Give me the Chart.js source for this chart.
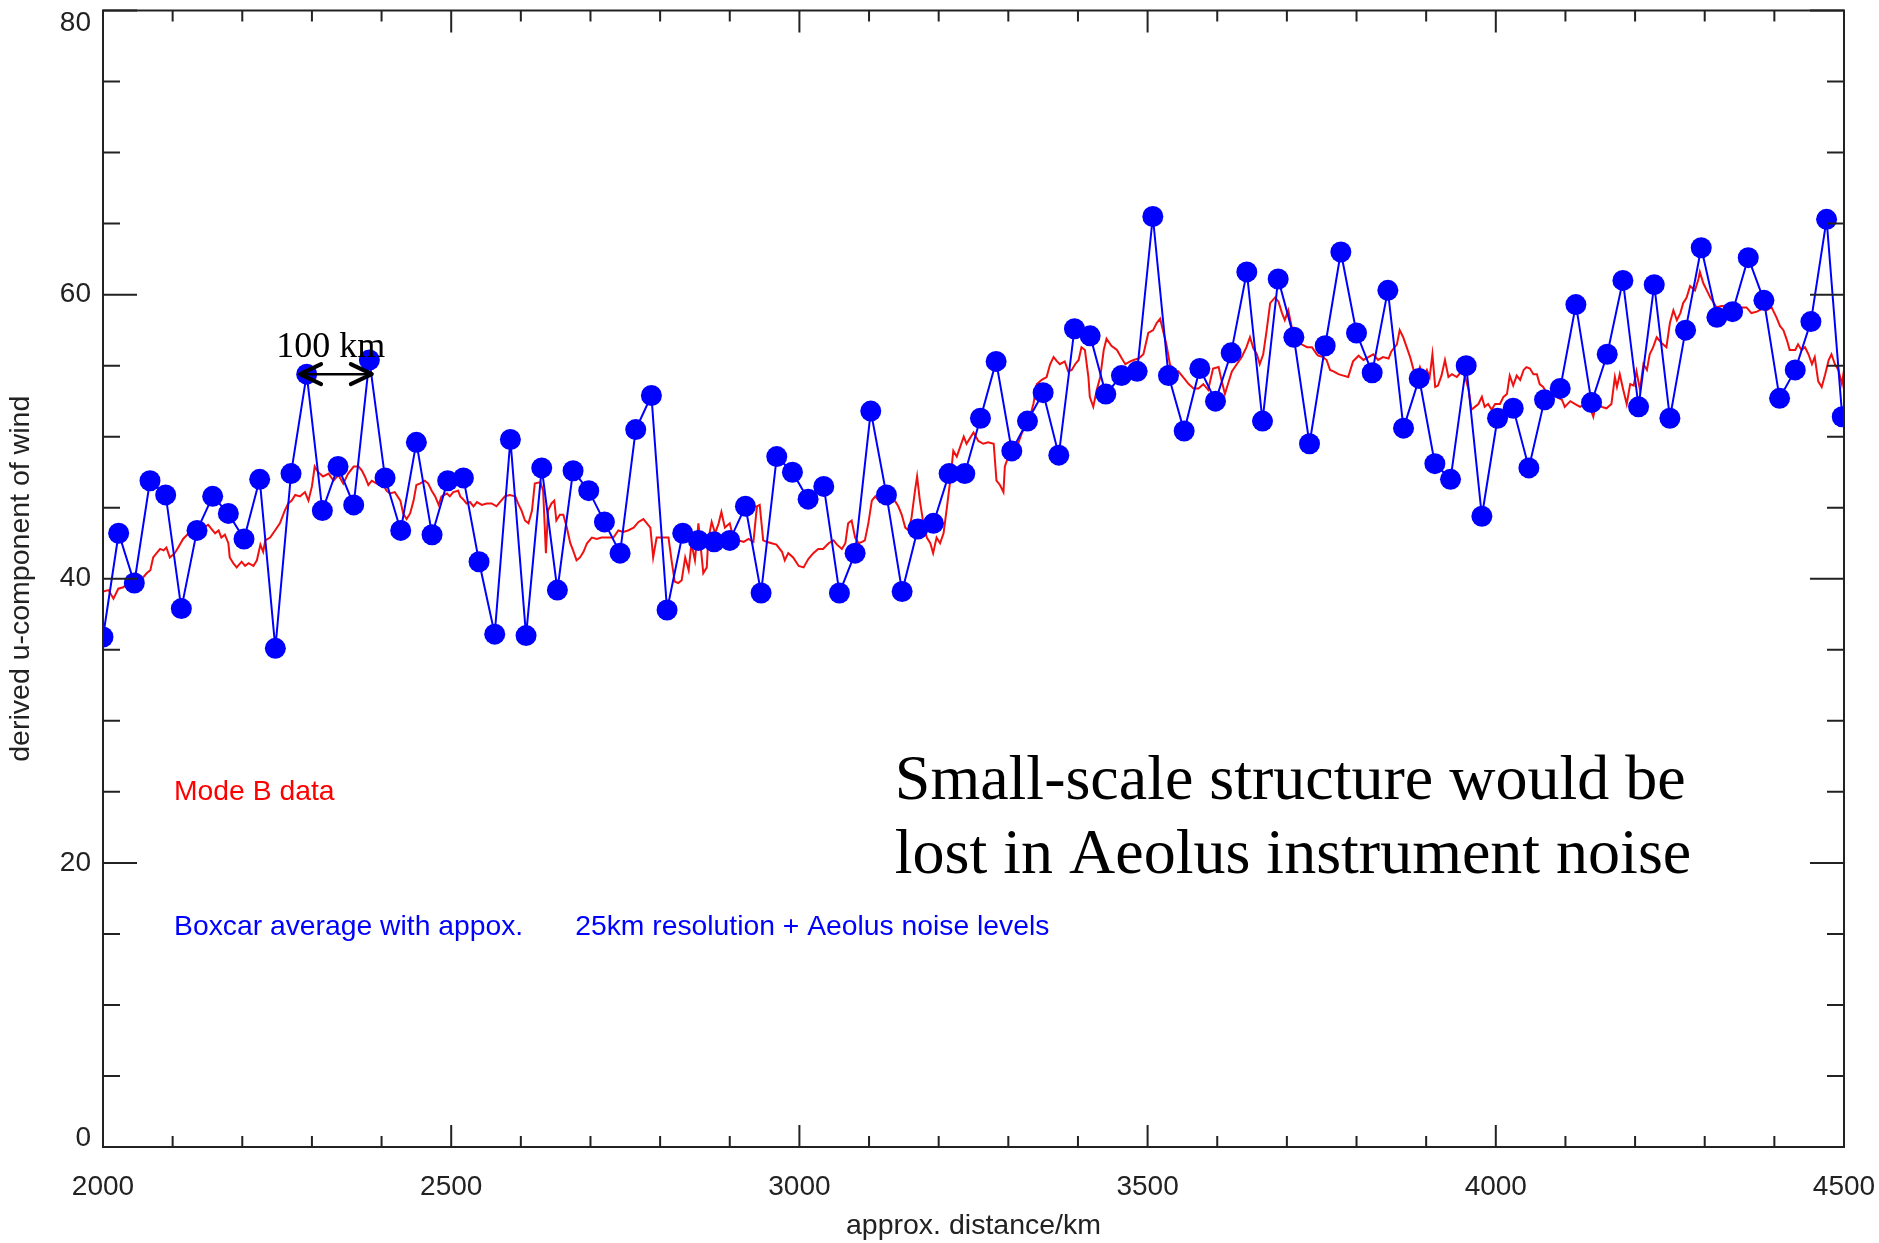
<!DOCTYPE html>
<html>
<head>
<meta charset="utf-8">
<script src="https://cdn.jsdelivr.net/npm/chart.js@4/dist/chart.umd.min.js"></script>
<style>
  html, body { margin: 0; padding: 0; background: #ffffff; }
  #wrap { width: 1879px; height: 1243px; position: relative; }
  canvas { display: block; }
</style>
</head>
<body>
<div id="wrap"><canvas id="windChart" width="1879" height="1243"></canvas></div>
<script>
// Boxcar-averaged samples (approx. 25 km resolution + Aeolus noise)
const boxcarDistance = [
  2000, 2022.5, 2045, 2067.5, 2090, 2112.5, 2135, 2157.5, 2180, 2202.5,
  2225, 2247.5, 2270, 2292.5, 2315, 2337.5, 2360, 2382.5, 2405, 2427.5,
  2450, 2472.5, 2495, 2517.5, 2540, 2562.5, 2585, 2607.5, 2630, 2652.5,
  2675, 2697.5, 2720, 2742.5, 2765, 2787.5, 2810, 2832.5, 2855, 2877.5,
  2900, 2922.5, 2945, 2967.5, 2990, 3012.5, 3035, 3057.5, 3080, 3102.5,
  3125, 3147.5, 3170, 3192.5, 3215, 3237.5, 3260, 3282.5, 3305, 3327.5,
  3350, 3372.5, 3395, 3417.5, 3440, 3462.5, 3485, 3507.5, 3530, 3552.5,
  3575, 3597.5, 3620, 3642.5, 3665, 3687.5, 3710, 3732.5, 3755, 3777.5,
  3800, 3822.5, 3845, 3867.5, 3890, 3912.5, 3935, 3957.5, 3980, 4002.5,
  4025, 4047.5, 4070, 4092.5, 4115, 4137.5, 4160, 4182.5, 4205, 4227.5,
  4250, 4272.5, 4295, 4317.5, 4340, 4362.5, 4385, 4407.5, 4430, 4452.5,
  4475, 4497.5
];
const boxcarWind = [
  35.9, 43.2, 39.7, 46.9, 45.9, 37.9, 43.4, 45.8, 44.6, 42.8,
  47.0, 35.1, 47.4, 54.4, 44.8, 47.9, 45.2, 55.4, 47.1, 43.4,
  49.6, 43.1, 46.9, 47.1, 41.2, 36.1, 49.8, 36.0, 47.8, 39.2,
  47.6, 46.2, 44.0, 41.8, 50.5, 52.9, 37.8, 43.2, 42.7, 42.6,
  42.7, 45.1, 39.0, 48.6, 47.5, 45.6, 46.5, 39.0, 41.8, 51.8,
  45.9, 39.1, 43.5, 43.9, 47.4, 47.4, 51.3, 55.3, 49.0, 51.1,
  53.1, 48.7, 57.6, 57.1, 53.0, 54.3, 54.6, 65.5, 54.3, 50.4,
  54.8, 52.5, 55.9, 61.6, 51.1, 61.1, 57.0, 49.5, 56.4, 63.0,
  57.3, 54.5, 60.3, 50.6, 54.1, 48.1, 47.0, 55.0, 44.4, 51.3,
  52.0, 47.8, 52.6, 53.4, 59.3, 52.4, 55.8, 61.0, 52.1, 60.7,
  51.3, 57.5, 63.3, 58.4, 58.8, 62.6, 59.6, 52.7, 54.7, 58.1,
  65.3, 51.4
];

// Mode B track: [distance km, u-component]
const modeBTrack = [
  [2000,39.1],[2008,39.2],[2015,38.6],[2022,39.3],[2029,39.4],[2036,39.7],[2046,39.9],[2056,40.0],[2063,40.4],[2068,40.6],
  [2072,41.5],[2077,41.8],[2082,42.1],[2087,42.0],[2091,42.2],[2096,41.5],[2103,41.8],[2108,42.2],[2115,42.8],[2123,43.2],
  [2130,43.4],[2137,42.9],[2144,43.6],[2151,43.8],[2156,43.5],[2161,43.2],[2166,43.4],[2170,42.9],[2175,43.1],[2180,42.5],
  [2182,41.5],[2187,41.1],[2192,40.8],[2199,41.2],[2204,40.9],[2209,41.1],[2216,40.9],[2221,41.3],[2226,42.4],[2230,41.9],
  [2233,42.7],[2240,42.9],[2247,43.4],[2254,43.9],[2261,44.8],[2266,45.3],[2271,45.5],[2276,45.9],[2283,45.8],[2290,46.1],
  [2295,45.5],[2300,46.5],[2304,47.9],[2309,47.5],[2316,47.2],[2324,47.4],[2331,46.9],[2338,47.3],[2345,46.7],[2352,47.4],
  [2360,47.9],[2367,47.9],[2372,47.6],[2376,47.2],[2381,46.6],[2386,46.9],[2393,46.7],[2400,46.9],[2407,46.2],[2412,46.0],
  [2419,46.1],[2427,45.5],[2431,44.6],[2436,44.2],[2441,44.6],
  [2446,45.5],[2450,46.6],[2455,46.7],[2462,46.9],[2467,46.7],[2472,46.2],[2477,45.8],[2482,45.2],[2486,45.8],[2494,46.0],
  [2498,45.8],[2503,46.1],[2510,46.2],[2513,45.8],[2517,45.6],[2522,45.3],[2527,45.4],[2532,45.1],[2537,45.4],[2544,45.2],
  [2551,45.3],[2558,45.3],[2565,45.1],[2570,45.4],[2577,45.8],[2584,45.9],[2592,45.8],[2596,45.3],[2601,44.8],[2606,44.1],
  [2611,43.9],[2616,44.8],[2620,46.7],[2628,46.8],[2632,46.2],[2636,41.8],[2639,44.8],[2644,45.3],[2648,45.5],[2651,44.1],
  [2656,44.5],[2661,44.5],[2666,43.6],[2671,42.5],[2675,42.0],[2680,41.3],[2685,41.5],[2690,41.9],[2695,42.5],[2702,42.9],
  [2709,42.8],[2716,42.9],[2723,42.9],[2733,42.9],[2740,43.4],[2747,43.3],[2754,43.4],[2762,43.6],[2769,44.0],[2776,44.2],
  [2781,43.9],[2786,43.6],[2790,41.5],[2795,42.9],[2800,42.9],[2807,42.9],[2812,42.9],[2817,41.1],[2821,39.8],[2826,39.7],
  [2831,39.9],[2836,41.5],[2841,40.6],[2845,42.5],[2850,41.3],[2855,43.9],
  [2862,40.4],[2867,40.8],[2869,42.7],[2874,44.0],[2879,43.2],[2884,43.9],[2888,44.7],[2893,43.6],[2900,43.9],[2905,42.9],
  [2912,42.7],[2920,42.6],[2927,42.8],[2934,42.6],[2939,45.1],[2943,45.2],[2948,42.7],[2953,42.6],[2960,42.5],[2967,42.4],
  [2975,41.9],[2979,41.3],[2984,41.8],[2991,41.5],[2999,40.9],[3006,40.8],[3013,41.4],[3020,41.8],[3027,42.1],[3034,42.1],
  [3042,42.5],[3049,42.7],[3054,42.4],[3061,42.1],[3066,42.5],[3070,43.9],[3075,44.1],[3080,42.9],[3085,42.5],[3090,42.6],
  [3094,42.7],[3099,43.9],[3104,45.5],[3109,45.8],[3116,45.4],[3123,45.5],[3130,45.4],[3137,45.5],[3142,45.1],[3147,44.5],
  [3152,43.6],[3157,43.4],[3161,44.3],[3166,46.2],[3169,47.2],[3173,45.5],[3178,43.9],[3183,42.9],[3188,42.5],[3192,41.8],
  [3197,42.9],[3202,42.5],[3207,43.2],[3212,45.1],[3216,46.7],[3221,49.0],[3226,48.6],[3231,49.3],[3236,50.0],[3240,49.5],
  [3245,49.9],[3250,50.3],[3257,49.7],[3264,49.5],[3271,49.6],[3279,49.5],[3283,46.9],[3288,46.6],[3293,46.1],
  [3295,47.9],[3300,48.6],[3305,49.0],[3310,49.3],[3314,49.5],[3319,50.2],[3324,50.7],[3331,51.4],[3336,52.3],[3341,53.7],
  [3348,54.0],[3355,54.2],[3360,55.1],[3365,55.6],[3370,55.3],[3374,55.1],[3381,55.3],[3386,54.6],[3391,54.7],[3396,55.1],
  [3401,55.4],[3405,56.3],[3410,56.1],[3415,54.2],[3417,52.8],[3422,52.1],[3427,53.3],[3432,54.2],[3437,56.1],[3441,56.9],
  [3448,56.4],[3456,56.1],[3463,55.5],[3468,55.1],[3475,55.3],[3480,55.4],[3487,55.5],[3494,55.8],[3501,57.3],[3508,57.5],
  [3513,58.0],[3518,58.3],[3523,57.3],[3527,56.5],[3532,55.1],[3537,54.6],[3544,54.6],[3551,54.2],[3559,53.7],[3566,53.4],
  [3573,53.4],[3580,53.7],[3587,53.3],[3594,54.8],[3602,54.9],[3606,54.0],[3611,53.0],[3616,53.8],[3621,54.6],[3628,55.1],
  [3635,55.6],[3642,56.3],[3647,57.0],[3652,56.2],[3657,55.8],[3661,55.1],[3666,55.8],[3671,57.5],[3676,59.4],[3683,59.8],
  [3688,59.5],[3693,58.7],[3697,58.2],[3702,58.9],[3707,57.7],[3714,57.0],[3721,56.5],[3729,56.3],[3736,56.3],[3743,55.8],
  [3745,55.7],[3752,55.6],[3757,55.4],[3762,54.7],[3767,54.6],[3774,54.4],[3781,54.3],[3788,54.2],[3795,55.3],[3803,55.7],
  [3810,55.4],[3817,55.6],[3824,55.8],[3831,55.4],[3838,55.6],[3846,55.5],[3850,56.0],[3858,56.5],[3862,57.5],[3867,57.0],
  [3872,56.3],[3877,55.6],[3882,54.7],[3886,54.2],[3891,54.9],[3896,54.2],[3901,54.7],[3905,54.2],[3909,55.8],[3913,53.5],
  [3917,53.6],[3922,54.3],[3927,55.4],[3932,54.2],[3937,54.4],[3944,54.2],[3951,54.6],[3956,54.2],[3961,53.3],[3965,51.9],
  [3970,52.1],[3975,52.3],[3980,52.8],[3984,52.1],[3989,52.3],[3994,51.9],[3999,52.3],[4006,52.3],[4011,52.8],[4016,53.0],
  [4020,54.3],[4025,53.6],[4030,54.3],[4035,54.0],[4040,54.7],[4044,54.9],[4049,54.8],[4054,54.4],[4059,54.4],[4063,53.7],
  [4068,53.5],[4073,53.1],[4080,53.0],[4087,52.8],[4095,52.6],[4099,52.1],[4107,52.5],[4114,52.3],[4121,52.1],[4128,52.3],
  [4135,52.1],[4140,51.4],[4145,52.6],[4152,52.1],[4159,52.0],[4166,52.3],[4171,54.2],
  [4174,53.5],[4178,54.4],[4183,53.3],[4188,52.3],[4193,53.7],[4198,53.6],[4202,54.6],[4207,53.3],[4212,55.1],[4217,54.7],
  [4221,55.8],[4226,56.3],[4231,57.0],[4238,56.6],[4245,56.3],[4250,58.0],[4255,58.9],[4260,58.2],[4265,58.7],[4269,59.4],
  [4274,59.8],[4279,60.6],[4286,60.3],[4291,61.1],[4293,61.6],[4298,60.8],[4303,60.3],[4308,59.8],[4312,59.5],[4317,59.1],
  [4324,59.2],[4332,59.2],[4339,59.1],[4346,59.2],[4353,59.1],[4360,59.1],[4367,58.7],[4375,58.8],[4382,59.0],[4389,58.9],
  [4396,59.1],[4403,58.4],[4408,57.8],[4413,57.5],[4418,56.8],[4422,56.1],[4430,56.1],[4434,56.5],[4439,56.1],[4444,56.3],
  [4449,55.8],[4454,55.1],[4458,55.6],[4463,53.9],[4468,53.5],[4473,54.4],[4478,55.4],[4482,55.8],[4487,55.1],[4492,54.7],
  [4497,53.7],[4500,54.7]
];

// Axis ranges and tick spacing
const distanceRange = [2000, 4500];
const windRange = [0, 80];
const xMajorStep = 500, xMinorStep = 100;
const yMajorStep = 20, yMinorStep = 5;

// Text placed in data space
const scaleNote = { text: '100 km', x: 2327, y: 55.6, arrowFrom: 2283, arrowTo: 2386, arrowY: 54.4 };
const keyNotes = [
  { text: 'Mode B data', x: 2102, y: 24.4, color: '#ff0000' },
  { text: 'Boxcar average with appox.', x: 2102, y: 14.9, color: '#0000ff' },
  { text: '25km resolution + Aeolus noise levels', x: 2678, y: 14.9, color: '#0000ff' }
];
const remarkLines = [
  { text: 'Small-scale structure would be', x: 3137, y: 24.5 },
  { text: 'lost in Aeolus instrument noise', x: 3137, y: 19.3 }
];

const SANS = '"Liberation Sans", Arial, Helvetica, sans-serif';
const SERIF = '"Liberation Serif", "Times New Roman", serif';
const inkColor = '#222222';

const boxcarPoints = boxcarDistance.map((d, i) => ({ x: d, y: boxcarWind[i] }));
const modeBPoints = modeBTrack.map(p => ({ x: p[0], y: p[1] }));

// Frame, inward ticks, y labels and annotations
const plotDecor = {
  id: 'plotDecor',
  afterDatasetsDraw(chart) {
    const { ctx, chartArea: a, scales } = chart;
    const xs = scales.x, ys = scales.y;
    ctx.save();

    ctx.strokeStyle = inkColor;
    ctx.lineWidth = 2;
    ctx.beginPath();
    for (let v = xs.min; v <= xs.max + 1e-6; v += xMinorStep) {
      const px = xs.getPixelForValue(v);
      const len = (v % xMajorStep === 0) ? 22 : 11;
      ctx.moveTo(px, a.bottom); ctx.lineTo(px, a.bottom - len);
      ctx.moveTo(px, a.top); ctx.lineTo(px, a.top + len);
    }
    for (let v = ys.min; v <= ys.max + 1e-6; v += yMinorStep) {
      const py = ys.getPixelForValue(v);
      const len = (v % yMajorStep === 0) ? 34 : 17;
      ctx.moveTo(a.left, py); ctx.lineTo(a.left + len, py);
      ctx.moveTo(a.right, py); ctx.lineTo(a.right - len, py);
    }
    ctx.stroke();
    ctx.strokeRect(a.left, a.top, a.right - a.left, a.bottom - a.top);

    // y tick labels, kept inside the frame height at the ends
    ctx.fillStyle = inkColor;
    ctx.font = '28px ' + SANS;
    ctx.textAlign = 'right';
    ctx.textBaseline = 'middle';
    ys.ticks.forEach(t => {
      let py = ys.getPixelForValue(t.value);
      py = Math.min(Math.max(py, a.top + 13), a.bottom - 9);
      ctx.fillText(String(t.value), a.left - 12, py);
    });

    // key text
    ctx.textAlign = 'left';
    ctx.textBaseline = 'alphabetic';
    ctx.font = '28.3px ' + SANS;
    keyNotes.forEach(n => {
      ctx.fillStyle = n.color;
      ctx.fillText(n.text, xs.getPixelForValue(n.x), ys.getPixelForValue(n.y));
    });

    // remark
    ctx.fillStyle = '#000000';
    ctx.font = '64px ' + SERIF;
    remarkLines.forEach(n => {
      ctx.fillText(n.text, xs.getPixelForValue(n.x), ys.getPixelForValue(n.y));
    });

    // 100 km scale marker
    ctx.font = '36px ' + SERIF;
    ctx.textAlign = 'center';
    ctx.fillText(scaleNote.text, xs.getPixelForValue(scaleNote.x), ys.getPixelForValue(scaleNote.y));
    const x1 = xs.getPixelForValue(scaleNote.arrowFrom);
    const x2 = xs.getPixelForValue(scaleNote.arrowTo);
    const ay = ys.getPixelForValue(scaleNote.arrowY);
    ctx.strokeStyle = '#000000';
    ctx.lineWidth = 2.5;
    ctx.beginPath();
    ctx.moveTo(x1, ay); ctx.lineTo(x2, ay);
    ctx.stroke();
    ctx.lineWidth = 4;
    ctx.lineCap = 'round';
    ctx.lineJoin = 'round';
    ctx.beginPath();
    ctx.moveTo(x1 + 21, ay - 10); ctx.lineTo(x1, ay); ctx.lineTo(x1 + 21, ay + 10);
    ctx.moveTo(x2 - 21, ay - 10); ctx.lineTo(x2, ay); ctx.lineTo(x2 - 21, ay + 10);
    ctx.stroke();

    ctx.restore();
  }
};

new Chart(document.getElementById('windChart'), {
  type: 'scatter',
  data: {
    datasets: [
      {
        label: 'Boxcar average',
        data: boxcarPoints,
        showLine: true,
        borderColor: '#0000ff',
        backgroundColor: '#0000ff',
        borderWidth: 2,
        pointRadius: 10.5,
        pointBorderWidth: 0,
        pointBackgroundColor: '#0000ff',
        tension: 0,
        clip: 0
      },
      {
        label: 'Mode B data',
        data: modeBPoints,
        showLine: true,
        borderColor: '#f01010',
        borderWidth: 2,
        pointRadius: 0,
        tension: 0,
        clip: 0
      }
    ]
  },
  options: {
    responsive: false,
    animation: false,
    devicePixelRatio: 1,
    layout: { padding: { left: 0, top: 10, right: 35, bottom: 0 } },
    plugins: { legend: { display: false }, tooltip: { enabled: false } },
    scales: {
      x: {
        type: 'linear',
        min: distanceRange[0],
        max: distanceRange[1],
        grid: { display: false, drawTicks: false },
        border: { display: false },
        ticks: {
          stepSize: xMajorStep,
          autoSkip: false,
          maxRotation: 0,
          padding: 23,
          color: inkColor,
          font: { family: SANS, size: 28 },
          callback: v => String(v)
        },
        title: {
          display: true,
          text: 'approx. distance/km',
          color: inkColor,
          font: { family: SANS, size: 28.5 },
          padding: { top: 0, bottom: 0 }
        },
        afterFit: s => { s.height = 96; s.paddingLeft = 0; s.paddingRight = 0; }
      },
      y: {
        type: 'linear',
        min: windRange[0],
        max: windRange[1],
        grid: { display: false, drawTicks: false },
        border: { display: false },
        ticks: { stepSize: yMajorStep, display: false },
        title: {
          display: true,
          text: 'derived u-component of wind',
          color: inkColor,
          font: { family: SANS, size: 28.5 },
          padding: { top: 4, bottom: 0 }
        },
        afterFit: s => { s.width = 103; s.paddingTop = 0; s.paddingBottom = 0; }
      }
    }
  },
  plugins: [plotDecor]
});
</script>
</body>
</html>
